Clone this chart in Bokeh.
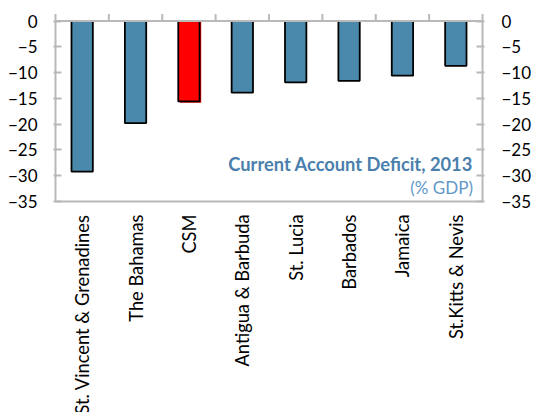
import numpy as np
from bokeh.plotting import figure
from bokeh.models import Range1d, LinearAxis, FixedTicker, Label
from bokeh.core.properties import value
from bokeh.embed import file_html
from bokeh.resources import INLINE

# ---- data ----
countries = ["St. Vincent & Grenadines", "The Bahamas", "CSM", "Antigua & Barbuda",
             "St. Lucia", "Barbados", "Jamaica", "St.Kitts & Nevis"]
deficit = [-29.2, -19.8, -15.6, -13.9, -11.9, -11.6, -10.6, -8.7]
highlight = "CSM"
y_ticks = [0, -5, -10, -15, -20, -25, -30, -35]
title_text = "Current Account Deficit, 2013"
subtitle_text = "(% GDP)"

FONT = "Lato"
AXIS_COLOR = "#b9b9b9"
BLUE = "#4a89ac"
RED = "#ff0000"

W, H = 534, 412
n = len(countries)
xs = [i + 0.5 for i in range(n)]
y_min, y_max = min(y_ticks), max(y_ticks)

# layout in pixels
PX_Y = 180.5 / (y_max - y_min)        # px per unit on value axis
zero_px, floor_px = 20.5, 201          # zero line / bottom line positions from top
PX_X = 54                              # px per category
left_px = 55
x_pad = 2 / PX_X
y_hi = y_max + zero_px / PX_Y
y_lo = y_min - (H - floor_px) / PX_Y
sep_top = y_max + 7 / PX_Y
label_y = y_min - 13 / PX_Y

p = figure(width=W, height=H, output_backend="svg", toolbar_location=None,
           x_range=Range1d(-x_pad, n + x_pad), y_range=Range1d(y_lo, y_hi),
           x_axis_location=None, y_axis_location=None,
           min_border_left=left_px - 2, min_border_right=W - (left_px + n * PX_X) - 2,
           min_border_top=0, min_border_bottom=0)
p.grid.visible = False
p.outline_line_color = None
p.background_fill_color = "white"
p.border_fill_color = "white"

# bars
colors = [RED if c == highlight else BLUE for c in countries]
hi = [i for i, c in enumerate(countries) if c == highlight]
p.vbar(x=[xs[i] + 0.03 for i in hi], top=0, bottom=[deficit[i] - 0.25 for i in hi],
       width=0.4, fill_color=RED, line_color=None)
p.vbar(x=xs, top=0, bottom=deficit, width=0.4, fill_color=colors,
       line_color="black", line_width=1.8)

# frame lines: zero line, bottom line, side lines and category separators
p.segment(x0=[0, 0], y0=[y_max, y_min], x1=[n, n], y1=[y_max, y_min],
          line_color=AXIS_COLOR, line_width=2)
p.segment(x0=[0, n], y0=[y_min, y_min], x1=[0, n], y1=[sep_top, sep_top],
          line_color=AXIS_COLOR, line_width=2)
seps = list(range(1, n))
p.segment(x0=seps, y0=[y_max] * len(seps), x1=seps, y1=[sep_top] * len(seps),
          line_color=AXIS_COLOR, line_width=2)

# value axes
left = LinearAxis(ticker=FixedTicker(ticks=y_ticks))
right = LinearAxis(ticker=FixedTicker(ticks=y_ticks))
for ax in (left, right):
    ax.axis_line_color = None
    ax.major_tick_line_color = AXIS_COLOR
    ax.major_tick_line_width = 2
    ax.major_tick_in = 8
    ax.major_tick_out = 0
    ax.minor_tick_line_color = None
    ax.major_label_text_font = FONT
    ax.major_label_text_font_size = "17px"
    ax.major_label_text_color = "black"
left.major_label_standoff = 16
right.major_label_standoff = 17
p.add_layout(left, "left")
p.add_layout(right, "right")

# category labels (vertical, below the bottom line)
p.text(x=xs, y=[label_y] * n, text=countries, angle=np.pi / 2,
       text_align="right", text_baseline="middle",
       text_font=value(FONT), text_font_size="18.3px", text_color="black")

# annotations
p.add_layout(Label(x=7.82, y=-27.65, text=title_text, text_align="right",
                   text_baseline="alphabetic", text_font=FONT, text_font_size="18.3px",
                   text_font_style="bold", text_color="#4a7fad"))
p.add_layout(Label(x=7.82, y=-32.2, text=subtitle_text, text_align="right",
                   text_baseline="alphabetic", text_font=FONT, text_font_size="17px",
                   text_color="#5f98c8"))

open("out.html", "w").write(file_html(p, INLINE))
